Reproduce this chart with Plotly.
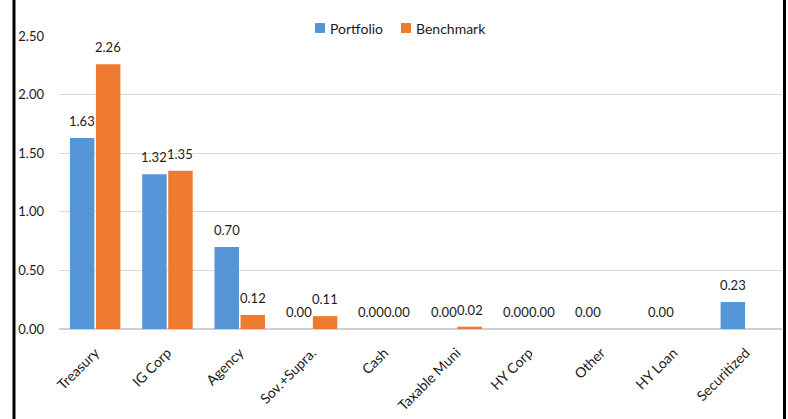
import plotly.graph_objects as go

categories = ["Treasury", "IG Corp", "Agency", "Sov.+Supra.", "Cash", "Taxable Muni",
              "HY Corp", "Other", "HY Loan", "Securitized"]
portfolio = [1.63, 1.32, 0.70, 0.00, 0.00, 0.00, 0.00, 0.00, 0.00, 0.23]
benchmark = [2.26, 1.35, 0.12, 0.11, 0.00, 0.02, 0.00, None, None, None]
series_names = ["Portfolio", "Benchmark"]
y_ticks = [0, 0.5, 1.0, 1.5, 2.0, 2.5]

FONT = "Lato"
BLUE = "#5496D8"
ORANGE = "#EE7B30"
TXT = "#1a1a1a"

# plot-area pixel geometry helpers (layout only)
L, R, T, B, W, H = 59, 6, 36, 90, 788, 419
PW, PH = W - L - R, H - T - B
def px(x): return (x - L) / PW
def py(y): return (H - B - y) / PH

fig = go.Figure()
fig.add_trace(go.Bar(name=series_names[0], x=categories, y=portfolio,
                     marker=dict(color=BLUE, line=dict(width=0))))
fig.add_trace(go.Bar(name=series_names[1], x=categories, y=benchmark,
                     marker=dict(color=ORANGE, line=dict(width=0))))

# data labels placed at the bar values, shifted to each bar of the group
cat_w = PW / len(categories)
bargap, bargroupgap = 0.28, 0.06
slot = cat_w * (1 - bargap) / 2
annotations = []
for vals, sgn in ((portfolio, -1), (benchmark, 1)):
    for c, v in zip(categories, vals):
        if v is None:
            continue
        annotations.append(dict(x=c, y=v, xref="x", yref="y", text=f"{v:.2f}",
                                showarrow=False, xanchor="center", yanchor="bottom",
                                xshift=sgn * slot / 2, yshift=7,
                                font=dict(size=13, color=TXT, family=FONT)))

# legend drawn as layout items
legend_items = [(series_names[0], BLUE, 315, 328), (series_names[1], ORANGE, 401, 414)]
shapes = []
for name, col, sx, tx in legend_items:
    shapes.append(dict(type="rect", xref="paper", yref="paper",
                       x0=px(sx), x1=px(sx + 10), y0=py(33), y1=py(23),
                       fillcolor=col, line=dict(width=0)))
    annotations.append(dict(x=px(tx), y=py(28), xref="paper", yref="paper", text=name,
                            showarrow=False, xanchor="left", yanchor="middle",
                            font=dict(size=14, color=TXT, family=FONT)))

for bx in (14, 784.5):
    shapes.append(dict(type="line", xref="paper", yref="paper", x0=px(bx), x1=px(bx),
                       y0=-0.4, y1=1.2, line=dict(color="black", width=3)))

fig.update_layout(
    width=W, height=H,
    margin=dict(l=L, r=R, t=T, b=B),
    paper_bgcolor="white", plot_bgcolor="white",
    barmode="group", bargap=bargap, bargroupgap=bargroupgap,
    font=dict(family=FONT, size=13, color=TXT),
    showlegend=False,
    xaxis=dict(tickangle=-45, showgrid=False, showline=False, ticks="",
               ticklabelstandoff=12, tickfont=dict(size=14, family=FONT, color=TXT)),
    yaxis=dict(range=[0, 2.5], tickvals=y_ticks, tickformat=".2f",
               showgrid=True, gridcolor="#d9d9d9", gridwidth=1,
               zeroline=True, zerolinecolor="#d0d0d0", zerolinewidth=1.5,
               ticklabelstandoff=14, tickfont=dict(size=13, family=FONT, color=TXT)),
    shapes=shapes,
    annotations=annotations,
)
fig.write_html("out.html")
